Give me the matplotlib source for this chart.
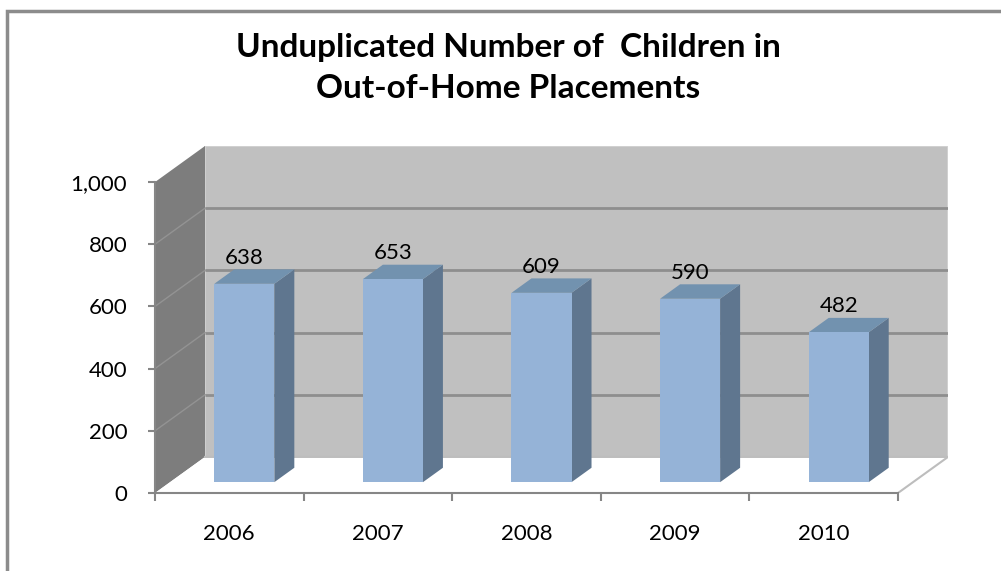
import matplotlib
matplotlib.use("Agg")
import matplotlib.pyplot as plt
from matplotlib.patches import Polygon, Rectangle
from matplotlib.ticker import FuncFormatter

plt.rcParams['font.family'] = ['Lato', 'DejaVu Sans']

# data
years = ['2006', '2007', '2008', '2009', '2010']
counts = [638, 653, 609, 590, 482]
y_ticks = [0, 200, 400, 600, 800, 1000]
title_lines = ['Unduplicated Number of  Children in', 'Out-of-Home Placements']

# fake 3d: depth offset in data units (x in categories, y in counts)
DX = 0.3365
DY = 116
BAR_W = 0.404
F0, F1 = 0.3, 0.7  # bar front/back as fraction of depth

front_c = '#95B3D7'
side_c = '#5F768F'
top_c = '#7292AF'
wall_c = '#C0C0C0'
side_wall_c = '#7D7D7D'
axis_c = '#868686'

n = len(years)
ymax = y_ticks[-1]

fig = plt.figure(figsize=(10.01, 5.71), dpi=100)
ax = fig.add_axes([155 / 1001, 78 / 571, 793 / 1001, 347 / 571])
ax.set_xlim(0, n + DX)
ax.set_ylim(0, ymax + DY)

# back wall
ax.add_patch(Polygon([(DX, DY), (n + DX, DY), (n + DX, ymax + DY), (DX, ymax + DY)],
                     closed=True, facecolor=wall_c, edgecolor='#d4d4d4', lw=1.2, zorder=1))
for v in y_ticks[1:-1]:
    ax.plot([DX, n + DX], [v + DY, v + DY], color='#8e8e8e', lw=2, zorder=2,
            solid_capstyle='butt')

# left side wall
ax.add_patch(Polygon([(0, 0), (DX, DY), (DX, ymax + DY), (0, ymax)],
                     closed=True, facecolor=side_wall_c, edgecolor='none', zorder=3))
for v in y_ticks[1:-1]:
    ax.plot([0, DX], [v, v + DY], color='#939393', lw=1, zorder=4)

# floor
ax.add_patch(Polygon([(0, 0), (n, 0), (n + DX, DY), (DX, DY)],
                     closed=True, facecolor='white', edgecolor='none', zorder=3))
ax.plot([DX, n + DX, n], [DY, DY, 0], color='#bdbdbd', lw=1.5, zorder=4)

# bars
for i, (yr, v) in enumerate(zip(years, counts)):
    c = i + 0.5
    x0 = c - BAR_W / 2 + F0 * DX
    x1 = c + BAR_W / 2 + F0 * DX
    y0 = F0 * DY
    ddx = (F1 - F0) * DX
    ddy = (F1 - F0) * DY
    ax.add_patch(Polygon([(x1, y0), (x1 + ddx, y0 + ddy), (x1 + ddx, v + y0 + ddy), (x1, v + y0)],
                         closed=True, facecolor=side_c, edgecolor='none', zorder=5))
    ax.add_patch(Polygon([(x0, v + y0), (x1, v + y0), (x1 + ddx, v + y0 + ddy), (x0 + ddx, v + y0 + ddy)],
                         closed=True, facecolor=top_c, edgecolor='none', zorder=5))
    ax.add_patch(Rectangle((x0, y0), x1 - x0, v, facecolor=front_c, edgecolor='none', zorder=6))
    ax.annotate(f'{v}', xy=((x0 + x1) / 2, v + y0 + ddy), xytext=(0, 1),
                textcoords='offset points', ha='center', va='bottom',
                fontsize=16, color='black', zorder=7)

# axes
for s in ['top', 'right']:
    ax.spines[s].set_visible(False)
ax.spines['left'].set_bounds(0, ymax)
ax.spines['bottom'].set_bounds(0, n)
for s in ['left', 'bottom']:
    ax.spines[s].set_color(axis_c)
    ax.spines[s].set_linewidth(1.5)
    ax.spines[s].set_zorder(4)

ax.set_yticks(y_ticks)
ax.yaxis.set_major_formatter(FuncFormatter(lambda v, p: f'{int(v):,}'))
ax.tick_params(axis='y', direction='out', length=5, width=1.5, color=axis_c,
               labelsize=16, pad=15)

ax.set_xticks([i + 0.5 for i in range(n)])
ax.set_xticklabels(years)
ax.set_xticks(range(n + 1), minor=True)
ax.tick_params(axis='x', which='major', length=0, labelsize=16, pad=22)
ax.tick_params(axis='x', which='minor', direction='out', length=6, width=1.5, color=axis_c)

# titles
fig.text(508 / 1001, 1 - 57 / 571, title_lines[0], ha='center', va='baseline',
         fontsize=24, fontweight='bold')
fig.text(508 / 1001, 1 - 98 / 571, title_lines[1], ha='center', va='baseline',
         fontsize=24, fontweight='bold')

# chart area border (runs off the right and bottom edges)
fig.patches.append(Rectangle((7 / 1001, -0.1), 1.2, 1.1 - 11 / 571, transform=fig.transFigure,
                             fill=False, edgecolor='#8c8c8c', lw=2.5))

fig.savefig('out.png', dpi=100)
